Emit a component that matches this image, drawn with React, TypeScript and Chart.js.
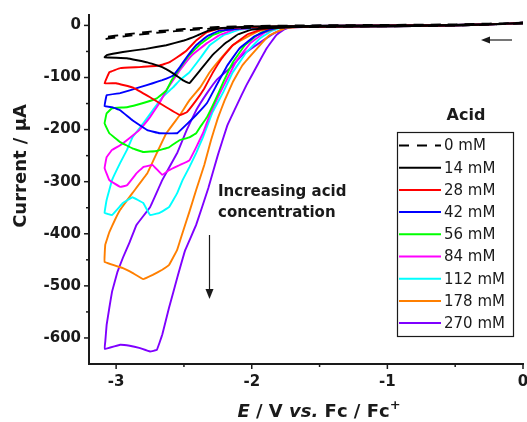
import { useEffect, useRef } from "react";
import { Chart, registerables } from "chart.js";

Chart.register(...registerables);

type Pt = [number, number];

// Potential (V vs Fc/Fc+) and current (µA) pairs, forward scan then reverse scan
const cv0mM: Pt[] = [[0,4],[-0.3,1],[-0.7,-1],[-1.2,-2],[-1.6,-3],[-1.9,-4],[-2.1,-5],[-2.29,-6],[-2.46,-9],[-2.66,-13],[-2.88,-19],[-3.06,-25],[-3.09,-27],[-3.07,-22],[-2.95,-18],[-2.75,-12],[-2.5,-7],[-2.25,-3],[-2.0,-1],[-1.6,0],[-1.0,1],[-0.5,2],[0,5]];
const cv14mM: Pt[] = [[0,5],[-0.3,1],[-0.8,-1],[-1.3,-2],[-1.7,-3],[-1.85,-5],[-2.0,-8],[-2.1,-17],[-2.2,-35],[-2.29,-57],[-2.38,-86],[-2.46,-111],[-2.51,-105],[-2.58,-92],[-2.66,-80],[-2.77,-71],[-2.92,-63],[-3.085,-61],[-3.07,-57],[-2.95,-51],[-2.78,-45],[-2.63,-38],[-2.5,-29],[-2.4,-19],[-2.32,-10],[-2.22,-5],[-2.0,-2],[-1.6,-1],[-1.0,0],[-0.5,1],[0,4]];
const cv28mM: Pt[] = [[0,5],[-0.3,1],[-0.8,-1],[-1.3,-2],[-1.7,-3],[-1.85,-5],[-1.93,-8],[-2.03,-17],[-2.14,-38],[-2.22,-63],[-2.29,-92],[-2.35,-121],[-2.41,-144],[-2.48,-167],[-2.53,-172],[-2.63,-157],[-2.75,-138],[-2.88,-119],[-3.0,-111],[-3.085,-111],[-3.05,-90],[-2.97,-82],[-2.83,-80],[-2.68,-77],[-2.61,-71],[-2.55,-61],[-2.48,-48],[-2.41,-29],[-2.33,-13],[-2.24,-6],[-2.0,-3],[-1.6,-1],[-1.0,0],[-0.5,1],[0,4]];
const cv42mM: Pt[] = [[0,5],[-0.3,1],[-0.8,-1],[-1.3,-2],[-1.7,-3],[-1.8,-4],[-1.87,-8],[-1.98,-21],[-2.09,-44],[-2.18,-77],[-2.26,-115],[-2.33,-149],[-2.41,-172],[-2.48,-190],[-2.55,-207],[-2.68,-207],[-2.77,-201],[-2.88,-182],[-2.97,-163],[-3.03,-157],[-3.085,-155],[-3.07,-134],[-2.97,-130],[-2.83,-119],[-2.73,-111],[-2.66,-105],[-2.58,-96],[-2.53,-80],[-2.48,-61],[-2.41,-38],[-2.33,-21],[-2.24,-10],[-2.0,-4],[-1.6,-1],[-1.0,0],[-0.5,1],[0,4]];
const cv56mM: Pt[] = [[0,5],[-0.3,1],[-0.8,-1],[-1.3,-2],[-1.7,-3],[-1.8,-4],[-1.94,-15],[-2.05,-38],[-2.14,-71],[-2.21,-109],[-2.27,-144],[-2.33,-176],[-2.38,-195],[-2.41,-207],[-2.46,-215],[-2.53,-220],[-2.61,-234],[-2.7,-241],[-2.8,-243],[-2.88,-236],[-2.97,-224],[-3.05,-207],[-3.085,-188],[-3.07,-169],[-3.03,-159],[-2.92,-157],[-2.8,-149],[-2.7,-140],[-2.63,-125],[-2.59,-105],[-2.53,-82],[-2.46,-57],[-2.38,-36],[-2.29,-19],[-2.18,-8],[-2.0,-4],[-1.6,-1],[-1.0,0],[-0.5,1],[0,4]];
const cv84mM: Pt[] = [[0,5],[-0.3,1],[-0.8,-1],[-1.3,-2],[-1.7,-3],[-1.8,-4],[-1.9,-13],[-2.01,-34],[-2.11,-67],[-2.18,-102],[-2.25,-138],[-2.31,-172],[-2.36,-207],[-2.41,-234],[-2.46,-259],[-2.53,-268],[-2.61,-278],[-2.66,-287],[-2.73,-268],[-2.8,-272],[-2.85,-284],[-2.92,-307],[-2.97,-310],[-3.05,-297],[-3.085,-274],[-3.07,-253],[-3.03,-239],[-2.97,-230],[-2.9,-216],[-2.83,-201],[-2.75,-176],[-2.68,-149],[-2.63,-125],[-2.58,-105],[-2.53,-86],[-2.44,-57],[-2.33,-34],[-2.24,-19],[-2.13,-8],[-2.0,-5],[-1.6,-1],[-1.0,0],[-0.5,1],[0,4]];
const cv112mM: Pt[] = [[0,5],[-0.3,1],[-0.8,-1],[-1.3,-2],[-1.7,-3],[-1.78,-4],[-1.85,-10],[-1.94,-25],[-2.04,-52],[-2.14,-90],[-2.21,-128],[-2.29,-167],[-2.36,-215],[-2.41,-245],[-2.46,-272],[-2.51,-297],[-2.55,-322],[-2.61,-349],[-2.68,-360],[-2.75,-364],[-2.8,-341],[-2.88,-330],[-2.95,-341],[-3.03,-364],[-3.085,-360],[-3.07,-335],[-3.03,-297],[-2.97,-264],[-2.92,-239],[-2.88,-215],[-2.8,-188],[-2.73,-163],[-2.66,-138],[-2.58,-119],[-2.53,-105],[-2.46,-90],[-2.38,-63],[-2.31,-38],[-2.21,-19],[-2.09,-8],[-1.9,-4],[-1.6,-1],[-1.0,0],[-0.5,1],[0,4]];
const cv178mM: Pt[] = [[0,5],[-0.3,1],[-0.8,-1],[-1.3,-2],[-1.65,-3],[-1.75,-5],[-1.87,-19],[-1.96,-44],[-2.07,-77],[-2.14,-109],[-2.2,-144],[-2.25,-178],[-2.3,-220],[-2.35,-268],[-2.41,-316],[-2.46,-358],[-2.51,-398],[-2.55,-431],[-2.61,-460],[-2.66,-469],[-2.73,-479],[-2.8,-487],[-2.88,-475],[-2.95,-466],[-3.085,-454],[-3.08,-421],[-3.05,-397],[-3.01,-374],[-2.97,-354],[-2.88,-322],[-2.77,-284],[-2.7,-245],[-2.63,-207],[-2.53,-172],[-2.46,-144],[-2.38,-119],[-2.31,-90],[-2.22,-61],[-2.14,-38],[-2.04,-23],[-1.94,-10],[-1.8,-4],[-1.5,-1],[-1.0,0],[-0.5,1],[0,4]];
const cv270mM: Pt[] = [[0,5],[-0.3,1],[-0.8,-1],[-1.3,-2],[-1.62,-3],[-1.74,-4],[-1.82,-19],[-1.89,-44],[-1.96,-77],[-2.04,-115],[-2.11,-153],[-2.18,-192],[-2.25,-249],[-2.32,-312],[-2.41,-383],[-2.49,-431],[-2.55,-485],[-2.61,-542],[-2.66,-594],[-2.7,-623],[-2.75,-626],[-2.83,-619],[-2.9,-615],[-2.97,-613],[-3.085,-621],[-3.08,-607],[-3.07,-575],[-3.05,-542],[-3.03,-511],[-2.99,-473],[-2.95,-446],[-2.9,-416],[-2.85,-383],[-2.75,-349],[-2.66,-297],[-2.55,-245],[-2.48,-201],[-2.41,-163],[-2.33,-130],[-2.26,-105],[-2.16,-82],[-2.07,-57],[-1.94,-33],[-1.82,-13],[-1.72,-4],[-1.5,-1],[-1.0,0],[-0.5,1],[0,4]];

const seriesData: Pt[][] = [cv0mM, cv14mM, cv28mM, cv42mM, cv56mM, cv84mM, cv112mM, cv178mM, cv270mM];
const seriesLabels = ["0 mM", "14 mM", "28 mM", "42 mM", "56 mM", "84 mM", "112 mM", "178 mM", "270 mM"];
const seriesColors = ["#000000", "#000000", "#ff0000", "#0000ff", "#00ff00", "#ff00ff", "#00ffff", "#ff7f00", "#7f00ff"];

const xTickValues = [-3, -2, -1, 0];
const xMinorValues = [-2.5, -1.5, -0.5];
const yTickValues = [-600, -500, -400, -300, -200, -100, 0];
const yMinorValues = [-550, -450, -350, -250, -150, -50];

const FONT = "'DejaVu Sans', sans-serif";
const INK = "#1a1a1a";

const decor = {
  id: "decor",
  afterDraw(chart: any) {
    const ctx: CanvasRenderingContext2D = chart.ctx;
    const xs = chart.scales.x;
    const ys = chart.scales.y;
    const a = chart.chartArea;
    ctx.save();
    ctx.strokeStyle = INK;
    ctx.lineWidth = 1.5;
    ctx.setLineDash([]);
    const seg = (x1: number, y1: number, x2: number, y2: number) => {
      ctx.beginPath();
      ctx.moveTo(x1, y1);
      ctx.lineTo(x2, y2);
      ctx.stroke();
    };
    for (const v of xTickValues) { const p = xs.getPixelForValue(v); seg(p, a.bottom, p, a.bottom + 5); }
    for (const v of xMinorValues) { const p = xs.getPixelForValue(v); seg(p, a.bottom, p, a.bottom + 3); }
    for (const v of yTickValues) { const p = ys.getPixelForValue(v); seg(a.left, p, a.left - 5, p); }
    for (const v of yMinorValues) { const p = ys.getPixelForValue(v); seg(a.left, p, a.left - 3, p); }

    // y title
    ctx.fillStyle = INK;
    ctx.save();
    ctx.translate(21, 166);
    ctx.rotate(-Math.PI / 2);
    ctx.font = `bold 18px ${FONT}`;
    ctx.textAlign = "center";
    ctx.textBaseline = "middle";
    ctx.fillText("Current / \u00b5A", 0, 0);
    ctx.restore();

    // x title with mixed styles
    const parts = [
      { t: "E", f: `italic bold 18px ${FONT}`, dy: 0 },
      { t: " / V ", f: `bold 18px ${FONT}`, dy: 0 },
      { t: "vs.", f: `italic bold 18px ${FONT}`, dy: 0 },
      { t: " Fc / Fc", f: `bold 18px ${FONT}`, dy: 0 },
      { t: "+", f: `bold 13px ${FONT}`, dy: -8 },
    ];
    let total = 0;
    for (const p of parts) { ctx.font = p.f; total += ctx.measureText(p.t).width; }
    let x = 319 - total / 2;
    ctx.textAlign = "left";
    ctx.textBaseline = "alphabetic";
    for (const p of parts) {
      ctx.font = p.f;
      ctx.fillText(p.t, x, 417 + p.dy);
      x += ctx.measureText(p.t).width;
    }

    // annotation
    ctx.font = `bold 15px ${FONT}`;
    ctx.textBaseline = "middle";
    ctx.fillText("Increasing acid", 218, 192);
    ctx.fillText("concentration", 218, 213);
    ctx.lineWidth = 1.2;
    seg(209.5, 235, 209.5, 292);
    ctx.beginPath();
    ctx.moveTo(205.5, 289); ctx.lineTo(213.5, 289); ctx.lineTo(209.5, 299); ctx.closePath(); ctx.fill();
    seg(486, 40, 512, 40);
    ctx.beginPath();
    ctx.moveTo(490, 36.5); ctx.lineTo(490, 43.5); ctx.lineTo(481, 40); ctx.closePath(); ctx.fill();

    // legend
    const lx = 397, ly = 132, lw = 116, lh = 204;
    ctx.fillStyle = "#ffffff";
    ctx.fillRect(lx, ly, lw, lh);
    ctx.strokeStyle = INK;
    ctx.lineWidth = 1.2;
    ctx.strokeRect(lx + 0.5, ly + 0.5, lw, lh);
    ctx.fillStyle = INK;
    ctx.font = `bold 16px ${FONT}`;
    ctx.textAlign = "center";
    ctx.fillText("Acid", 466, 116);
    ctx.textAlign = "left";
    ctx.font = `15px ${FONT}`;
    seriesLabels.forEach((lab, i) => {
      const y = 145.5 + i * 22.2;
      ctx.strokeStyle = seriesColors[i];
      ctx.lineWidth = 2;
      ctx.setLineDash(i === 0 ? [10, 8] : []);
      seg(399, y, 441, y);
      ctx.setLineDash([]);
      ctx.fillStyle = INK;
      ctx.fillText(lab, 444, y + 1);
    });
    ctx.restore();
  },
};

export default function App() {
  const ref = useRef<HTMLCanvasElement | null>(null);
  useEffect(() => {
    if (!ref.current) return;
    const datasets = seriesData.map((d, i) => ({
      label: seriesLabels[i],
      data: d.map(([x, y]) => ({ x, y })),
      showLine: true,
      borderColor: seriesColors[i],
      backgroundColor: seriesColors[i],
      borderWidth: 1.9,
      borderDash: i === 0 ? [10, 7] : [],
      pointRadius: 0,
      tension: 0.05,
      fill: false,
    }));
    const chart = new Chart(ref.current, {
      type: "scatter",
      data: { datasets },
      options: {
        animation: false,
        responsive: false,
        layout: { padding: { top: 15, right: 4, left: 0, bottom: 0 } },
        plugins: { legend: { display: false }, tooltip: { enabled: false } },
        scales: {
          x: {
            type: "linear",
            min: -3.2,
            max: 0,
            grid: { display: false, drawTicks: true, tickLength: 5 },
            border: { display: true, color: INK, width: 2 },
            afterBuildTicks: (s: any) => { s.ticks = xTickValues.map((value) => ({ value })); },
            afterFit: (s: any) => { s.height = 58; s.paddingLeft = 0; s.paddingRight = 0; },
            ticks: {
              color: INK,
              padding: 4,
              maxRotation: 0,
              font: { family: FONT, weight: "bold", size: 15 },
              callback: (v: any) => String(v),
            },
          },
          y: {
            type: "linear",
            min: -650,
            max: 20,
            grid: { display: false, drawTicks: true, tickLength: 5 },
            border: { display: true, color: INK, width: 2 },
            afterBuildTicks: (s: any) => { s.ticks = yTickValues.map((value) => ({ value })); },
            afterFit: (s: any) => { s.width = 89; s.paddingTop = 0; s.paddingBottom = 0; },
            ticks: {
              color: INK,
              padding: 3,
              font: { family: FONT, weight: "bold", size: 15 },
              callback: (v: any) => String(v),
            },
          },
        },
      } as any,
      plugins: [decor],
    });
    return () => chart.destroy();
  }, []);
  return (
    <div style={{ position: "fixed", left: 0, top: 0, width: 527, height: 422, background: "#fff" }}>
      <canvas ref={ref} width={527} height={422} style={{ width: 527, height: 422 }} />
    </div>
  );
}
